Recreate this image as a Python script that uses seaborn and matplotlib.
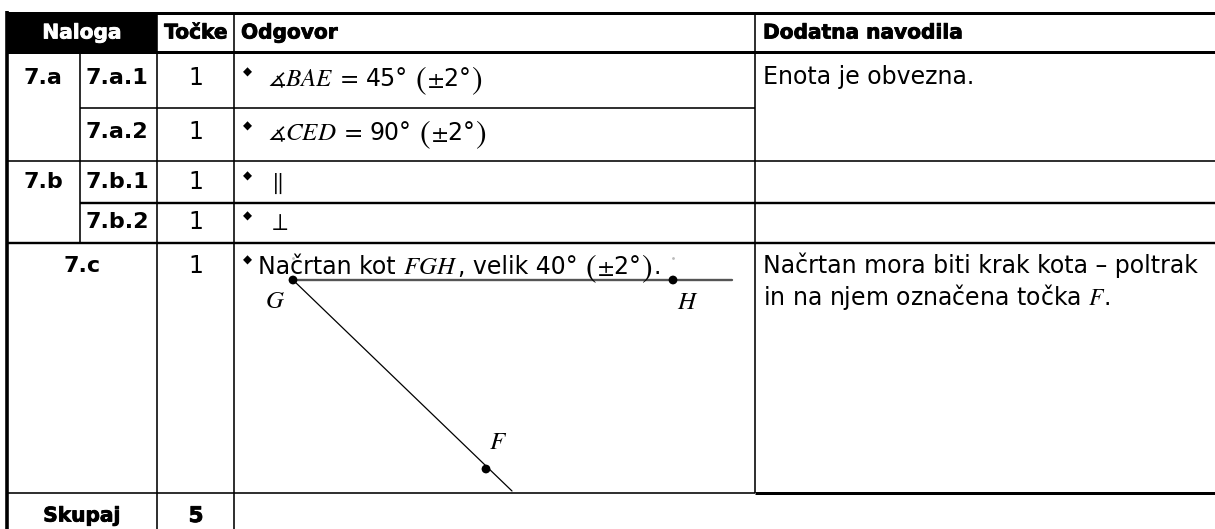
import matplotlib
matplotlib.use("Agg")
import matplotlib.pyplot as plt
import matplotlib.patheffects as PathEffects
import seaborn as sns
from matplotlib.patches import Rectangle

# table content
header = ["Naloga", "Točke", "Odgovor", "Dodatna navodila"]
task_main = ["7.a", "", "7.b", "", "7.c"]
task_sub = ["7.a.1", "7.a.2", "7.b.1", "7.b.2", ""]
points = [1, 1, 1, 1, 1]
# answer pieces; "(" and ")" are drawn as tall brackets, a trailing space adds a gap
answers = [
    [r"$\measuredangle BAE\ =$ ", "45° ", "(", r"$\pm$2°", ")"],
    [r"$\measuredangle CED\ =$ ", "90° ", "(", r"$\pm$2°", ")"],
    [r"$\parallel$"],
    [r"$\perp$"],
    ["Načrtan kot ", "$FGH$", ", velik 40° ", "(", r"$\pm$2°", ")", "."],
]
notes = [
    "Enota je obvezna.",
    "",
    "",
    "",
    "Načrtan mora biti krak kota – poltrak\nin na njem označena točka $F$.",
]
total_label = "Skupaj"

# sketch of the angle FGH (G is the vertex)
pt_names = ["G", "H", "F"]
pt_x = [0, 380, 193]
pt_y = [0, 0, 189]
ray_end_x = [439, 219]
ray_end_y = [0, 211]

sns.set_theme(style="white")
plt.rcParams["font.family"] = ["DejaVu Sans"]
plt.rcParams["mathtext.fontset"] = "stix"
plt.rcParams["text.color"] = "black"

W, H = 1215, 529
fig = plt.figure(figsize=(W / 100, H / 100), dpi=100)
ax = fig.add_axes([0, 0, 1, 1])
ax.set_xlim(0, W)
ax.set_ylim(H, 0)
ax.axis("off")
renderer = fig.canvas.get_renderer()

px = 0.72  # one pixel in points
thin, thick = 1.6 * px, 3.0 * px

# grid
ax.add_patch(Rectangle((7, 12), 150, 40, color="black", lw=0))
ax.hlines([12.5, 52], 7, W, color="black", lw=thick)
ax.hlines(108, 80, 755, color="black", lw=thin)
ax.hlines(161, 7, W, color="black", lw=thin)
ax.hlines([203, 243], 80, W, color="black", lw=2.4 * px)
ax.hlines(243, 7, 80, color="black", lw=2.4 * px)
ax.hlines(493, 7, 755, color="black", lw=thin)
ax.hlines(493, 755, W, color="black", lw=thick)
ax.vlines(7, 11, H, color="black", lw=3.6 * px)
ax.vlines(80, 52, 243, color="black", lw=thin)
ax.vlines([157, 234], 12, H, color="black", lw=thin)
ax.vlines(755, 12, 493, color="black", lw=thin)

# header (heavier face imitated with a thin stroke)
hfs = 14.5
def heavy(c):
    return [PathEffects.withStroke(linewidth=0.6, foreground=c)]

ax.text(82, 33, header[0], color="white", fontsize=hfs, fontweight="bold",
        ha="center", va="center", path_effects=heavy("white"))
ax.text(196, 33, header[1], fontsize=hfs, fontweight="bold", ha="center", va="center",
        path_effects=heavy("black"))
ax.text(241, 33, header[2], fontsize=hfs, fontweight="bold", ha="left", va="center",
        path_effects=heavy("black"))
ax.text(763, 33, header[3], fontsize=hfs, fontweight="bold", ha="left", va="center",
        path_effects=heavy("black"))

fs = 17


def draw_pieces(x, base, pieces):
    for p in pieces:
        gap = 7 if p.endswith(" ") else 1
        if p in "()":
            t = ax.text(x, base + 3, "$" + p + "$", fontsize=23, ha="left", va="baseline")
        elif p.startswith("$\\measured") or p == "$FGH$":
            t = ax.text(x, base, p.rstrip(), fontsize=18, ha="left", va="baseline")
        else:
            t = ax.text(x, base, p.rstrip(), fontsize=fs, ha="left", va="baseline")
        x += t.get_window_extent(renderer).width + gap


text_y = [78, 132, 182, 222, 266]
for i in range(len(points)):
    y = text_y[i]
    if task_main[i] and task_sub[i]:
        ax.text(43, y, task_main[i], fontsize=16, fontweight="bold", ha="center", va="center")
        ax.text(117, y, task_sub[i], fontsize=16, fontweight="bold", ha="center", va="center")
    elif task_sub[i]:
        ax.text(117, y, task_sub[i], fontsize=16, fontweight="bold", ha="center", va="center")
    else:
        ax.text(82, y, task_main[i], fontsize=16, fontweight="bold", ha="center", va="center")
    ax.text(196, y, str(points[i]), fontsize=fs, ha="center", va="center")
    ax.text(247, y - 6, "◆", fontsize=8.5, ha="center", va="center")
    draw_pieces(258 if i == 4 else 268, y + 8, answers[i])
    if notes[i]:
        ax.text(763, y - 13, notes[i], fontsize=fs, ha="left", va="top", linespacing=1.15)

# total row
ax.text(82, 516, total_label, fontsize=hfs, fontweight="bold", ha="center", va="center",
        path_effects=heavy("black"))
ax.text(196, 516, str(sum(points)), fontsize=hfs + 1, fontweight="bold", ha="center",
        va="center", path_effects=heavy("black"))

# angle sketch
ox, oy = 293, 280
sns.lineplot(x=[ox + pt_x[0], ox + ray_end_x[0]], y=[oy + pt_y[0], oy + ray_end_y[0]],
             ax=ax, color="#555555", lw=1.7, sort=False)
sns.lineplot(x=[ox + pt_x[0], ox + ray_end_x[1]], y=[oy + pt_y[0], oy + ray_end_y[1]],
             ax=ax, color="black", lw=0.9, sort=False)
sns.scatterplot(x=[ox + v for v in pt_x], y=[oy + v for v in pt_y], ax=ax,
                color="black", s=40, edgecolor="none", zorder=5)
ax.scatter([ox + pt_x[0], ox + pt_x[1]], [oy - 22, oy - 22], s=1, color="#bbbbbb")
label_dx = [-18, 15, 12]
label_dy = [21, 22, -27]
for name, x, y, dx, dy in zip(pt_names, pt_x, pt_y, label_dx, label_dy):
    ax.text(ox + x + dx, oy + y + dy, f"${name}$", fontsize=18, ha="center", va="center")

fig.savefig("out.png", dpi=100)
